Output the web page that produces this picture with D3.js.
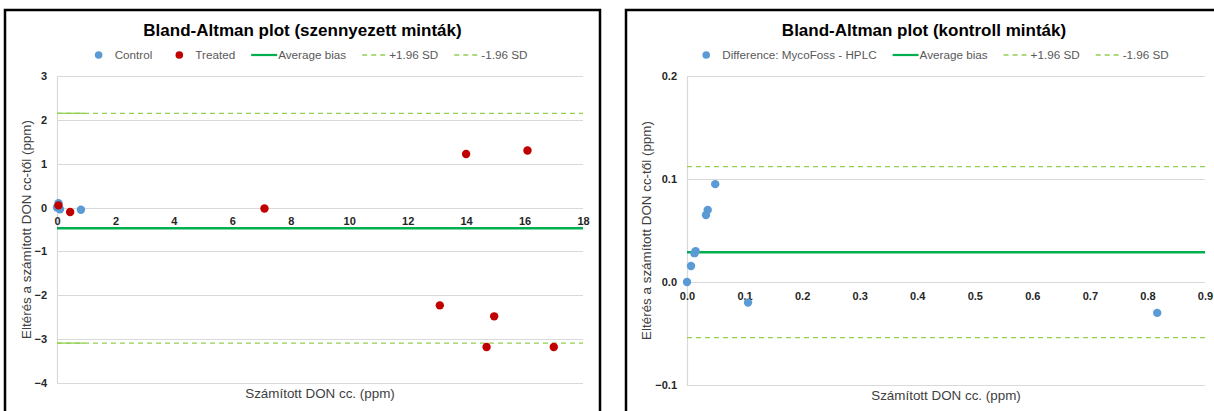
<!DOCTYPE html>
<html>
<head>
<meta charset="utf-8">
<script src="https://cdn.jsdelivr.net/npm/d3@7"></script>
<style>
  body { margin: 0; background: #fff; }
  svg { display: block; font-family: "Liberation Sans", Arial, sans-serif; }
</style>
</head>
<body>
<svg width="1214" height="411"></svg>
<script>
// --- left chart: contaminated samples ---
var leftControlX = [0.0, 0.05, 0.1, 0.82];
var leftControlY = [0.0, 0.1, -0.04, -0.05];
var leftTreatedX = [0.05, 0.45, 7.1, 13.1, 14.0, 14.7, 14.96, 16.1, 17.0];
var leftTreatedY = [0.05, -0.1, -0.02, -2.23, 1.22, -3.18, -2.48, 1.3, -3.18];
var leftBias = -0.47, leftUpper = 2.15, leftLower = -3.09;
var leftXTicks = [0, 2, 4, 6, 8, 10, 12, 14, 16, 18];
var leftYTicks = [3, 2, 1, 0, -1, -2, -3, -4];

// --- right chart: control samples ---
var rightX = [0.0, 0.007, 0.013, 0.015, 0.033, 0.036, 0.049, 0.106, 0.817];
var rightY = [0.0, 0.0155, 0.028, 0.030, 0.065, 0.07, 0.095, -0.020, -0.030];
var rightBias = 0.029, rightUpper = 0.112, rightLower = -0.054;
var rightXTicks = [0, 0.1, 0.2, 0.3, 0.4, 0.5, 0.6, 0.7, 0.8, 0.9];
var rightYTicks = [0.2, 0.1, 0, -0.1];

var blue = "#5B9BD5", red = "#C00000", green = "#00B050", lime = "#92D050";

var svg = d3.select("svg");
svg.append("rect").attr("width", 1214).attr("height", 411).attr("fill", "#fff");

function drawChart(cfg) {
  var g = svg.append("g");

  // chart border
  g.append("rect")
    .attr("x", cfg.box[0]).attr("y", cfg.box[1])
    .attr("width", cfg.box[2]).attr("height", cfg.box[3])
    .attr("fill", "none").attr("stroke", "#000").attr("stroke-width", 2.5);

  var x = d3.scaleLinear().domain(cfg.xDomain).range([cfg.plot[0], cfg.plot[1]]);
  var y = d3.scaleLinear().domain(cfg.yDomain).range([cfg.plot[3], cfg.plot[2]]);
  var cx = cfg.box[0] + cfg.box[2] / 2;

  g.append("text")
    .attr("x", cx).attr("y", 36)
    .attr("text-anchor", "middle")
    .attr("font-size", 17).attr("font-weight", "bold")
    .text(cfg.title);

  // gridlines
  g.append("g").selectAll("line")
    .data(cfg.yTicks)
    .enter().append("line")
    .attr("x1", x(cfg.xDomain[0])).attr("x2", x(cfg.xDomain[1]))
    .attr("y1", function(d) { return Math.round(y(d)) + 0.5; })
    .attr("y2", function(d) { return Math.round(y(d)) + 0.5; })
    .attr("stroke", "#D9D9D9").attr("stroke-width", 1.2);

  g.append("line")
    .attr("x1", x(cfg.xDomain[0]) + 0.5).attr("x2", x(cfg.xDomain[0]) + 0.5)
    .attr("y1", y(cfg.yDomain[0])).attr("y2", y(cfg.yDomain[1]))
    .attr("stroke", "#D9D9D9").attr("stroke-width", 1.2);

  // y tick labels
  var yAxis = d3.axisLeft(y).tickValues(cfg.yTicks).tickSize(0).tickPadding(0)
    .tickFormat(cfg.yFormat);
  var ya = g.append("g")
    .attr("transform", "translate(" + (x(cfg.xDomain[0]) - 10) + ",0)")
    .call(yAxis);
  ya.select(".domain").remove();
  ya.selectAll("text").attr("font-size", 11).attr("font-weight", "bold")
    .attr("fill", "#262626").attr("font-family", "Liberation Sans, Arial, sans-serif");

  // x tick labels, sitting under the zero line
  var xAxis = d3.axisBottom(x).tickValues(cfg.xTicks).tickSize(0).tickPadding(0)
    .tickFormat(cfg.xFormat);
  var xa = g.append("g")
    .attr("transform", "translate(0," + (y(0) + 10) + ")")
    .call(xAxis);
  xa.select(".domain").remove();
  xa.selectAll("text").attr("font-size", 11).attr("font-weight", "bold")
    .attr("fill", "#262626").attr("font-family", "Liberation Sans, Arial, sans-serif");

  // axis titles
  g.append("text")
    .attr("x", (cfg.plot[0] + cfg.plot[1]) / 2).attr("y", cfg.xTitleY)
    .attr("text-anchor", "middle").attr("font-size", 13.4).attr("fill", "#404040")
    .text("Számított DON cc. (ppm)");
  g.append("text")
    .attr("transform", "translate(" + cfg.yTitleX + "," + ((cfg.plot[2] + cfg.plot[3]) / 2) + ") rotate(-90)")
    .attr("text-anchor", "middle").attr("font-size", 13.4).attr("fill", "#404040")
    .text("Eltérés a számított DON cc-től (ppm)");

  // limits of agreement
  [cfg.upper, cfg.lower].forEach(function(v) {
    g.append("line")
      .attr("x1", x(cfg.xDomain[0])).attr("x2", x(cfg.xDomain[1]))
      .attr("y1", y(v)).attr("y2", y(v))
      .attr("stroke", lime).attr("stroke-width", 1.3)
      .attr("stroke-dasharray", "5,4");
    if (cfg.solidTo) {
      g.append("line")
        .attr("x1", x(cfg.xDomain[0])).attr("x2", x(cfg.solidTo))
        .attr("y1", y(v)).attr("y2", y(v))
        .attr("stroke", lime).attr("stroke-width", 1.3);
    }
  });

  g.append("line")
    .attr("x1", x(cfg.xDomain[0])).attr("x2", x(cfg.xDomain[1]))
    .attr("y1", y(cfg.bias)).attr("y2", y(cfg.bias))
    .attr("stroke", green).attr("stroke-width", 2.5);

  // points
  cfg.series.forEach(function(s) {
    g.append("g").selectAll("circle")
      .data(s.xs.map(function(v, i) { return [v, s.ys[i]]; }))
      .enter().append("circle")
      .attr("cx", function(d) { return x(d[0]); })
      .attr("cy", function(d) { return y(d[1]); })
      .attr("r", 4.2)
      .attr("fill", s.color);
  });

  // legend
  var leg = g.append("g");
  var pos = 0;
  cfg.legend.forEach(function(item) {
    var it = leg.append("g").attr("transform", "translate(" + pos + ",0)");
    if (item.type == "dot") {
      it.append("circle").attr("cx", 11).attr("cy", 0).attr("r", 3.8).attr("fill", item.color);
    } else {
      it.append("line").attr("x1", 0).attr("x2", 26).attr("y1", 0).attr("y2", 0)
        .attr("stroke", item.color)
        .attr("stroke-width", item.type == "solid" ? 2.2 : 1.3)
        .attr("stroke-dasharray", item.type == "dash" ? "5,4" : null);
    }
    var t = it.append("text").attr("x", 27).attr("y", 4)
      .attr("font-size", 11.7).attr("fill", "#595959").text(item.label);
    pos += 27 + t.node().getComputedTextLength() + 16;
  });
  pos -= 16;
  leg.attr("transform", "translate(" + (cx - pos / 2 + cfg.legendShift) + ",55)");
}

drawChart({
  box: [5, 10, 595, 420],
  plot: [57, 583, 76, 383],
  xDomain: [0, 18], yDomain: [-4, 3],
  xTicks: leftXTicks, yTicks: leftYTicks,
  xFormat: d3.format("d"), yFormat: d3.format("d"),
  title: "Bland-Altman plot (szennyezett minták)",
  xTitleY: 398, yTitleX: 31,
  bias: leftBias, upper: leftUpper, lower: leftLower,
  solidTo: 0.95,
  legendShift: 5,
  series: [
    { xs: leftControlX, ys: leftControlY, color: blue },
    { xs: leftTreatedX, ys: leftTreatedY, color: red }
  ],
  legend: [
    { type: "dot", color: blue, label: "Control" },
    { type: "dot", color: red, label: "Treated" },
    { type: "solid", color: green, label: "Average bias" },
    { type: "dash", color: lime, label: "+1.96 SD" },
    { type: "dash", color: lime, label: "-1.96 SD" }
  ]
});

drawChart({
  box: [626, 10, 596, 420],
  plot: [687, 1205, 76, 385],
  xDomain: [0, 0.9], yDomain: [-0.1, 0.2],
  xTicks: rightXTicks, yTicks: rightYTicks,
  xFormat: d3.format(".1f"), yFormat: d3.format(".1f"),
  title: "Bland-Altman plot (kontroll minták)",
  xTitleY: 400, yTitleX: 651,
  bias: rightBias, upper: rightUpper, lower: rightLower,
  solidTo: null,
  legendShift: 8,
  series: [
    { xs: rightX, ys: rightY, color: blue }
  ],
  legend: [
    { type: "dot", color: blue, label: "Difference: MycoFoss - HPLC" },
    { type: "solid", color: green, label: "Average bias" },
    { type: "dash", color: lime, label: "+1.96 SD" },
    { type: "dash", color: lime, label: "-1.96 SD" }
  ]
});
</script>
</body>
</html>
